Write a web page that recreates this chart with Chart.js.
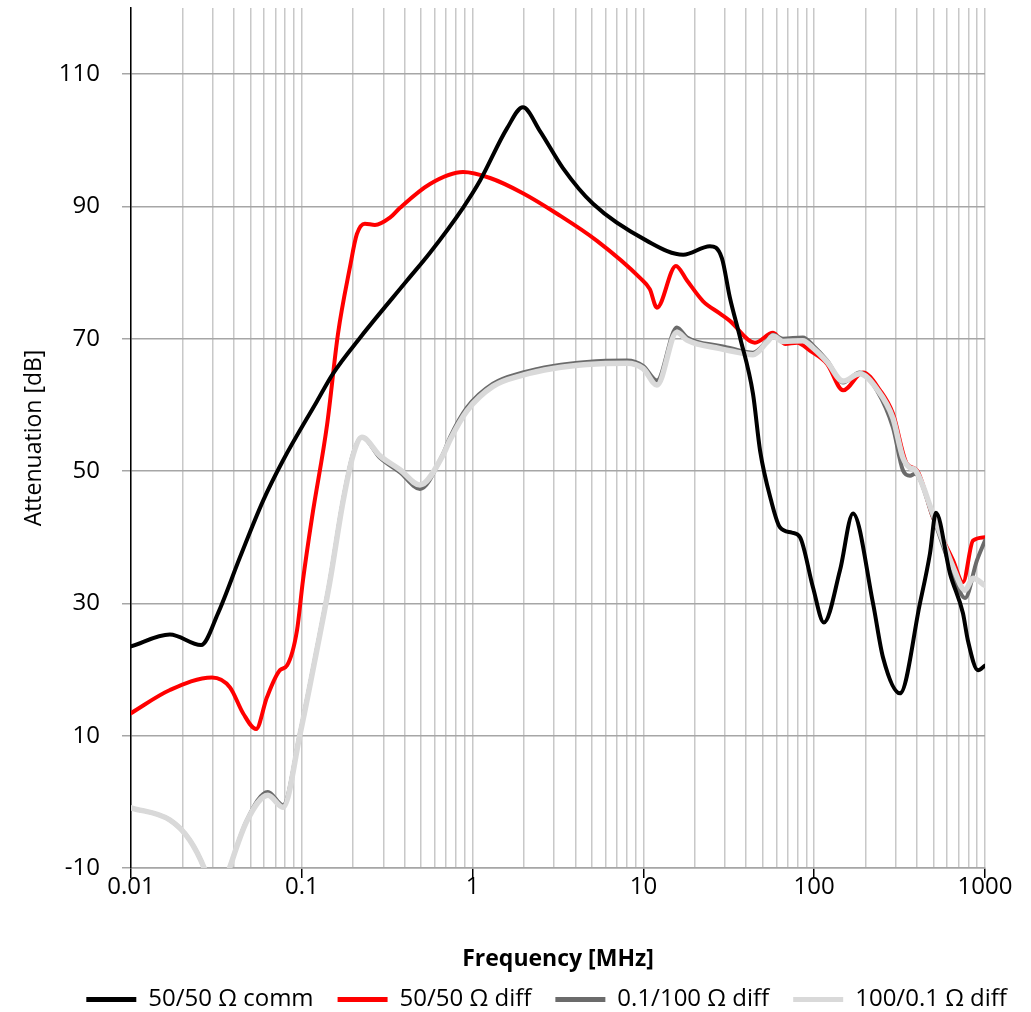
<!DOCTYPE html>
<html>
<head>
<meta charset="utf-8">
<script src="https://cdn.jsdelivr.net/npm/chart.js@4/dist/chart.umd.min.js"></script>
<style>
html,body{margin:0;padding:0;background:#fff;}
#wrap{width:1031px;height:1012px;position:relative;}
</style>
</head>
<body>
<div id="wrap"><canvas id="c"></canvas></div>
<script>
// ---- data (frequency in MHz, attenuation in dB) ----
const seriesNames = ['50/50 \u03A9 comm', '50/50 \u03A9 diff', '0.1/100 \u03A9 diff', '100/0.1 \u03A9 diff'];
const seriesColors = ['#000000', '#ff0000', '#6b6b6b', '#d9d9d9'];

const commFreq = [0.01, 0.0169, 0.0257, 0.0323, 0.0435, 0.0593, 0.0776, 0.123, 0.152, 0.22, 0.413, 0.563, 0.879, 1.10, 1.59, 1.97, 2.48, 3.38, 5.07, 10.5, 17.1, 24.5, 28.8, 32.1, 36.8, 43.8, 48.2, 56, 63, 74, 82.6, 98.4, 114, 141.6, 168.7, 221, 253, 318, 416, 476, 516, 624, 743, 794, 910, 1000];
const commVal  = [23.5, 25.3, 23.7, 28.5, 37.0, 45.5, 51.6, 60.6, 64.7, 70.2, 78.8, 83.0, 89.8, 93.8, 101.8, 105.0, 101.4, 95.8, 90.4, 84.8, 82.7, 84.0, 82.2, 76.2, 70.2, 61.7, 53.1, 45.5, 41.5, 40.7, 40.0, 32.4, 27.1, 35.0, 43.6, 30.0, 21.8, 16.4, 30.0, 37.5, 43.7, 34.5, 28.5, 24.4, 19.9, 20.6];

const diffFreq = [0.01, 0.0169, 0.0298, 0.038, 0.0453, 0.054, 0.0625, 0.0745, 0.0819, 0.0937, 0.1016, 0.1148, 0.1406, 0.163, 0.191, 0.210, 0.234, 0.268, 0.328, 0.376, 0.563, 0.879, 1.265, 1.97, 3.12, 5.35, 9.55, 10.9, 12.0, 15.5, 18.0, 22.3, 28.1, 32.1, 45.0, 57.4, 67.5, 79.4, 94.4, 119, 147.6, 193, 243, 289, 349, 400, 496, 650, 743, 851, 1000];
const diffVal  = [13.4, 16.9, 18.8, 17.3, 13.4, 11.0, 15.8, 19.9, 20.6, 25.9, 33.5, 43.0, 57.0, 70.8, 80.7, 85.8, 87.4, 87.2, 88.3, 89.8, 93.4, 95.2, 94.3, 92.0, 88.9, 84.8, 79.2, 77.5, 74.7, 81.0, 78.8, 75.7, 73.8, 72.7, 69.4, 70.9, 69.2, 69.4, 68.2, 66.2, 62.2, 64.9, 62.2, 58.7, 51.1, 50.1, 43.0, 36.5, 33.2, 39.5, 40.0];

const lowHighFreq = [0.01, 0.0169, 0.0221, 0.0271, 0.032, 0.038, 0.0477, 0.0633, 0.0776, 0.0976, 0.123, 0.146, 0.174, 0.1995, 0.225, 0.287, 0.376, 0.492, 0.671, 0.737, 0.927, 1.315, 1.97, 2.96, 4.67, 8.02, 9.96, 12.0, 15.7, 18.0, 28.1, 32, 43.8, 53, 57.4, 65.6, 85.9, 98.4, 119, 147.6, 185, 233, 289, 331, 364, 389, 496, 650, 764, 897, 1000];
const lowHighVal  = [-0.9, -2.75, -5.8, -10.3, -16, -9.8, -2.75, 1.5, -0.5, 10.4, 23.4, 33.5, 45.5, 52.6, 55.1, 52.0, 49.8, 47.3, 52.6, 55.1, 59.6, 63.2, 64.9, 65.9, 66.5, 66.7, 65.9, 63.7, 71.7, 70.2, 68.9, 68.6, 67.9, 69.7, 70.6, 70.0, 70.2, 69.0, 66.7, 63.4, 64.9, 62.2, 56.6, 50.1, 49.3, 49.6, 43.0, 34.5, 30.8, 36.5, 39.5];

const highLowFreq = [0.01, 0.0169, 0.0221, 0.0271, 0.032, 0.038, 0.0477, 0.0633, 0.0776, 0.0976, 0.123, 0.146, 0.174, 0.1995, 0.225, 0.287, 0.376, 0.492, 0.671, 0.737, 0.927, 1.315, 1.97, 2.96, 4.67, 8.02, 9.96, 12.0, 15.7, 18.0, 28.1, 32, 43.8, 53, 57.4, 65.6, 85.9, 98.4, 119, 147.6, 185, 233, 289, 331, 364, 389, 496, 650, 764, 851, 1000];
const highLowVal  = [-0.9, -2.75, -5.8, -10.3, -16, -9.8, -2.9, 1.0, -0.8, 10.2, 23.2, 33.3, 45.3, 52.4, 55.1, 52.3, 50.2, 47.9, 52.4, 54.7, 59.1, 62.8, 64.5, 65.5, 66.1, 66.3, 65.5, 63.0, 71.0, 69.8, 68.5, 68.2, 67.6, 69.5, 70.4, 69.6, 69.7, 68.6, 66.5, 63.6, 64.7, 62.4, 58.0, 52.0, 50.5, 50.2, 43.5, 35.5, 32.0, 33.8, 32.7];

const yTicks = [-10, 10, 30, 50, 70, 90, 110];
const xDecades = [0.01, 0.1, 1, 10, 100, 1000];
const xTickLabels = ['0.01', '0.1', '1', '10', '100', '1000'];
const xTitle = 'Frequency [MHz]';
const yTitle = 'Attenuation [dB]';

// ---- build ----
function pts(fs, vs) { return fs.map((f, i) => ({ x: f, y: vs[i] })); }

Chart.defaults.font.family = '"Open Sans", "DejaVu Sans", sans-serif';
Chart.defaults.color = '#000';

const widths = [4, 4, 4, 5.5];
const orders = [0, 3, 2, 1];
const allData = [pts(commFreq, commVal), pts(diffFreq, diffVal), pts(lowHighFreq, lowHighVal), pts(highLowFreq, highLowVal)];

const datasets = allData.map((d, i) => ({
  label: seriesNames[i],
  data: d,
  borderColor: seriesColors[i],
  backgroundColor: seriesColors[i],
  borderWidth: widths[i],
  pointRadius: 0,
  fill: false,
  cubicInterpolationMode: 'monotone',
  borderCapStyle: 'round',
  borderJoinStyle: 'round',
  order: orders[i]
}));

function isDecade(v) {
  const l = Math.log10(v);
  return Math.abs(l - Math.round(l)) < 1e-6;
}

const LEFT_PAD = 5;
const PLOT_LEFT = 131;
const PLOT_BOTTOM = 868;
const RIGHT_GAP = 46;
const LEGEND_PAD = 24;
const LEGEND_FONT = 24;
const BOTTOM_PAD = -9.5;

new Chart(document.getElementById('c'), {
  type: 'line',
  data: { datasets },
  options: {
    responsive: true,
    maintainAspectRatio: false,
    animation: false,
    layout: { padding: { left: LEFT_PAD, right: 0, top: 8, bottom: BOTTOM_PAD } },
    plugins: {
      tooltip: { enabled: false },
      legend: {
        position: 'bottom',
        align: 'end',
        labels: {
          font: { size: LEGEND_FONT },
          boxWidth: 50,
          boxHeight: 5,
          padding: LEGEND_PAD,
          sort: (a, b) => a.datasetIndex - b.datasetIndex,
          generateLabels: (chart) => {
            const items = Chart.defaults.plugins.legend.labels.generateLabels(chart);
            items.forEach(it => { it.lineWidth = 0; it.fillStyle = seriesColors[it.datasetIndex]; });
            return items;
          }
        }
      }
    },
    scales: {
      x: {
        type: 'logarithmic',
        min: 0.01,
        max: 1000,
        afterBuildTicks: (scale) => {
          const t = [];
          for (let e = -2; e <= 3; e++) {
            for (let s = 1; s <= 9; s++) {
              const v = parseFloat((s * Math.pow(10, e)).toPrecision(6));
              t.push({ value: v, major: s === 1 });
              if (e === 3) break;
            }
          }
          scale.ticks = t;
        },
        afterFit: (scale) => {
          const legendH = LEGEND_FONT + LEGEND_PAD + 10;
          const legendTop = 1012 - BOTTOM_PAD - legendH;
          scale.height = legendTop - PLOT_BOTTOM;
          scale.paddingRight = RIGHT_GAP;
        },
        ticks: {
          autoSkip: false,
          maxRotation: 0,
          padding: -5,
          font: { size: 24 },
          callback: function (value) {
            if (!isDecade(value)) return '';
            const idx = xDecades.findIndex(d => Math.abs(Math.log10(d) - Math.log10(value)) < 1e-6);
            return idx >= 0 ? xTickLabels[idx] : '';
          }
        },
        grid: {
          color: '#c8c8c8',
          lineWidth: 1.5,
          tickLength: 10,
          tickColor: (ctx) => (ctx.tick && ctx.tick.major) ? '#000' : 'rgba(0,0,0,0)',
          tickWidth: 1.5
        },
        border: { color: '#a6a6a6', width: 1.5 },
        title: {
          display: true,
          text: xTitle,
          font: { size: 23, weight: 'bold' },
          padding: { top: 40, bottom: -10 }
        }
      },
      y: {
        type: 'linear',
        min: -10,
        max: 120,
        afterBuildTicks: (scale) => {
          scale.ticks = yTicks.map(v => ({ value: v }));
        },
        afterFit: (scale) => {
          scale.width = PLOT_LEFT - LEFT_PAD;
          scale.paddingTop = 0;
          scale.paddingBottom = 0;
        },
        ticks: {
          padding: 22,
          font: { size: 24 }
        },
        grid: {
          color: '#a6a6a6',
          lineWidth: 1.5,
          tickLength: 9,
          tickColor: '#a6a6a6'
        },
        border: { color: '#000', width: 1.5 },
        title: {
          display: true,
          text: yTitle,
          font: { size: 23 },
          padding: { top: 16, bottom: 10 }
        }
      }
    }
  }
});
</script>
</body>
</html>
